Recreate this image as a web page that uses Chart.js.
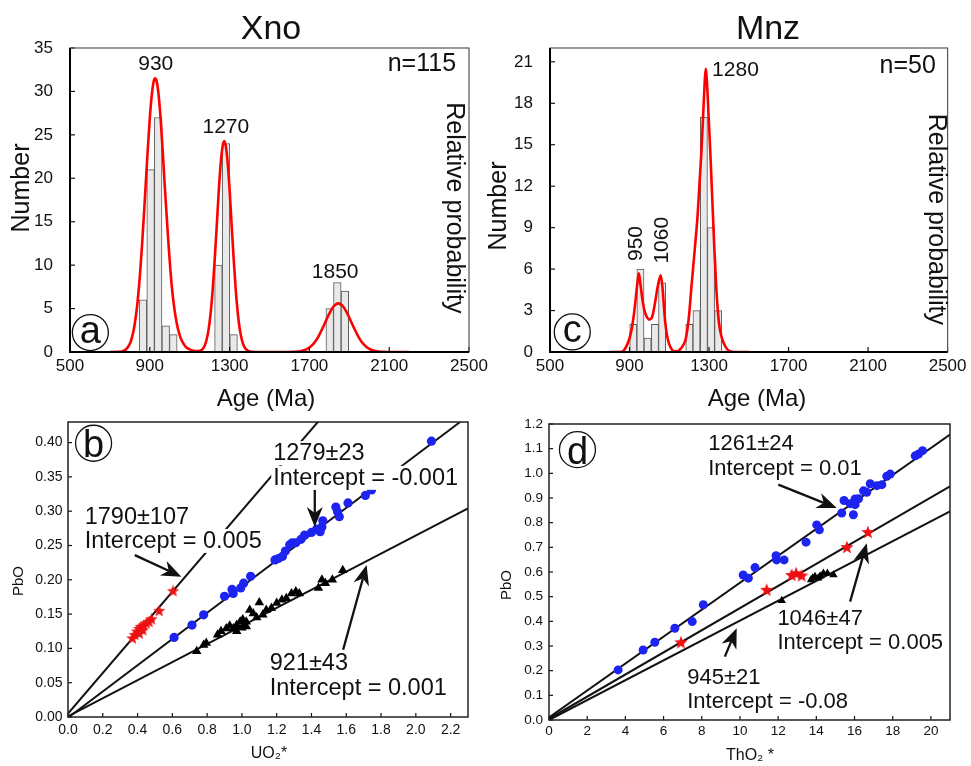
<!DOCTYPE html>
<html>
<head>
<meta charset="utf-8">
<title>Xno / Mnz ages and PbO plots</title>
<script src="https://cdn.jsdelivr.net/npm/chart.js@4.4.1/dist/chart.umd.min.js"></script>
<style>
  html, body { margin: 0; padding: 0; background: #fff; }
  #fig { position: relative; width: 971px; height: 766px; }
  #fig canvas { position: absolute; left: 0; top: 0; }
</style>
</head>
<body>
<div id="fig">
  <canvas id="panelA" width="971" height="766"></canvas>
  <canvas id="panelC" width="971" height="766"></canvas>
  <canvas id="panelB" width="971" height="766"></canvas>
  <canvas id="panelD" width="971" height="766"></canvas>
</div>
<script>
// ---- values ----

var ageTicks = [500, 900, 1300, 1700, 2100, 2500];

// (a) xenotime histogram (bin centres, ~38 Ma bins) + probability curve
var xnoBinAge = [866, 904, 942, 980, 1018, 1244, 1282, 1320, 1802, 1840, 1878];
var xnoBinCount = [6, 21, 27, 3, 2, 10, 24, 2, 5, 8, 7];
var xnoCountTicks = [0, 5, 10, 15, 20, 25, 30, 35];
var xnoCurveAge = [700, 740, 760, 780, 800, 810, 820, 830, 840, 850, 860, 870, 880, 890, 900, 910, 920, 927, 935, 945,
  955, 965, 975, 985, 995, 1005, 1015, 1025, 1035, 1045, 1055, 1065, 1080, 1100, 1120, 1140, 1160, 1175, 1185, 1195,
  1205, 1215, 1225, 1235, 1245, 1255, 1265, 1273, 1281, 1291, 1301, 1311, 1321, 1331, 1341, 1351, 1361, 1371, 1386, 1410,
  1450, 1500, 1580, 1620, 1660, 1690, 1720, 1745, 1770, 1795, 1820, 1845, 1870, 1895, 1920, 1945, 1970, 2000, 2030, 2070,
  2120, 2200];
var xnoCurveProb = [0, 0.02, 0.07, 0.29, 0.95, 1.62, 2.62, 4.09, 6.09, 8.7, 11.9, 15.6, 19.5, 23.4, 26.9, 29.6, 31.2, 31.5, 31.1, 29.4,
  26.6, 23.0, 19.1, 15.5, 12.0, 8.9, 6.5, 4.7, 3.3, 2.3, 1.6, 1.1, 0.6, 0.3, 0.15, 0.1, 0.23, 0.73, 1.44, 2.63,
  4.49, 7.11, 10.5, 14.3, 18.3, 21.6, 23.7, 24.3, 23.7, 21.6, 18.3, 14.3, 10.5, 7.11, 4.49, 2.63, 1.44, 0.73, 0.23, 0.03,
  0, 0, 0, 0.02, 0.11, 0.36, 0.93, 1.78, 2.94, 4.2, 5.21, 5.6, 5.21, 4.2, 2.94, 1.78, 0.93, 0.36, 0.11, 0.02,
  0, 0];

// (c) monazite histogram (~36 Ma bins) + probability curve
var mnzBinAge = [919, 955, 991, 1028, 1064, 1201, 1237, 1274, 1310, 1346];
var mnzBinCount = [2, 6, 1, 2, 5, 2, 3, 17, 9, 3];
var mnzCountTicks = [0, 3, 6, 9, 12, 15, 18, 21];
var mnzCurveAge = [800, 850, 866, 880, 897, 910, 920, 930, 938, 947, 955, 965, 975, 985, 1000, 1015, 1030, 1040, 1047, 1057,
  1065, 1072, 1080, 1090, 1100, 1112, 1125, 1140, 1155, 1170, 1182, 1197, 1212, 1228, 1242, 1252, 1262, 1270, 1277, 1283,
  1290, 1298, 1306, 1313, 1320, 1327, 1337, 1350, 1365, 1380, 1395, 1410, 1440, 1500];
var mnzCurveProb = [0, 0, 0.05, 0.3, 0.85, 1.6, 2.5, 3.7, 4.8, 5.7, 4.9, 3.8, 3.0, 2.6, 2.35, 2.6, 3.7, 4.6, 5.1, 5.55,
  4.8, 3.5, 2.1, 1.1, 0.55, 0.2, 0.05, 0.05, 0.2, 0.5, 0.9, 2.3, 4.8, 7.4, 9.8, 12.2, 14.6, 17.0, 19.2, 20.5,
  19.4, 17.0, 14.6, 12.2, 9.8, 7.4, 4.5, 2.1, 1.0, 0.45, 0.15, 0.04, 0, 0];

// (b) xenotime PbO vs UO2*
var uo2Ticks = [0, 0.2, 0.4, 0.6, 0.8, 1.0, 1.2, 1.4, 1.6, 1.8, 2.0, 2.2];
var pboTicksB = [0, 0.05, 0.10, 0.15, 0.20, 0.25, 0.30, 0.35, 0.40];
var bBlueU = [0.61, 0.713, 0.78, 0.90, 0.95, 0.943, 0.993, 1.01, 1.05, 1.19, 1.21, 1.233, 1.25, 1.275, 1.29,
  1.31, 1.34, 1.36, 1.40, 1.43, 1.45, 1.46, 1.465, 1.54, 1.55, 1.56, 1.61, 1.71, 1.745, 2.09];
var bBluePb = [0.116, 0.134, 0.149, 0.176, 0.18, 0.186, 0.188, 0.195, 0.205, 0.229, 0.231, 0.234, 0.242, 0.251, 0.254,
  0.254, 0.259, 0.265, 0.269, 0.274, 0.27, 0.277, 0.286, 0.306, 0.299, 0.292, 0.312, 0.323, 0.331, 0.402];
var bRedU = [0.37, 0.384, 0.397, 0.41, 0.42, 0.435, 0.45, 0.466, 0.48, 0.41, 0.43, 0.524, 0.604];
var bRedPb = [0.115, 0.12, 0.125, 0.129, 0.132, 0.134, 0.137, 0.139, 0.143, 0.122, 0.127, 0.155, 0.184];
var bBlackU = [0.74, 0.78, 0.795, 0.86, 0.88, 0.91, 0.93, 0.95, 0.97, 0.97, 0.99, 1.0, 1.005, 1.025, 1.025,
  1.045, 1.065, 1.085, 1.10, 1.12, 1.14, 1.17, 1.2, 1.23, 1.255, 1.285, 1.31, 1.33, 1.44, 1.46, 1.48, 1.52, 1.58];
var bBlackPb = [0.096, 0.105, 0.108, 0.12, 0.125, 0.129, 0.133, 0.129, 0.134, 0.125, 0.139, 0.13, 0.142, 0.139, 0.132,
  0.156, 0.151, 0.145, 0.167, 0.149, 0.156, 0.159, 0.166, 0.171, 0.173, 0.18, 0.183, 0.18, 0.188, 0.2, 0.195, 0.2, 0.214];
var bRedFitU = [0, 1.45], bRedFitPb = [0.005, 0.434];
var bBlueFitU = [0, 2.26], bBlueFitPb = [-0.001, 0.431];
var bBlackFitU = [0, 2.3], bBlackFitPb = [0.001, 0.304];

// (d) monazite PbO vs ThO2*
var tho2Ticks = [0, 2, 4, 6, 8, 10, 12, 14, 16, 18, 20];
var pboTicksD = [0, 0.1, 0.2, 0.3, 0.4, 0.5, 0.6, 0.7, 0.8, 0.9, 1.0, 1.1, 1.2];
var dBlueTh = [3.62, 4.93, 5.54, 6.59, 7.5, 8.08, 10.17, 10.44, 10.79, 11.89, 11.92, 12.31, 13.46, 14.02, 14.16, 15.33,
  15.45, 15.77, 15.94, 16.03, 16.03, 16.21, 16.47, 16.64, 16.82, 17.17, 17.43, 17.69, 17.87, 19.18, 19.35, 19.56];
var dBluePb = [0.203, 0.284, 0.315, 0.372, 0.399, 0.467, 0.588, 0.575, 0.618, 0.666, 0.649, 0.649, 0.721, 0.791, 0.771, 0.839,
  0.89, 0.877, 0.832, 0.873, 0.896, 0.897, 0.929, 0.923, 0.958, 0.95, 0.954, 0.988, 0.997, 1.071, 1.078, 1.092];
var dRedTh = [6.91, 11.4, 12.71, 12.94, 13.23, 15.6, 16.7];
var dRedPb = [0.315, 0.528, 0.588, 0.595, 0.586, 0.701, 0.762];
var dBlackTh = [12.19, 13.72, 13.81, 13.93, 14.1, 14.2, 14.37, 14.58, 14.9];
var dBlackPb = [0.484, 0.568, 0.575, 0.582, 0.575, 0.584, 0.595, 0.595, 0.588];
var dBlueFitTh = [0, 21], dBlueFitPb = [0.01, 1.157];
var dRedFitTh = [0, 21], dRedFitPb = [0.005, 0.947];
var dBlackFitTh = [0, 21], dBlackFitPb = [0, 0.846];

// ---- helpers ----
var FONT = 'Arial, "Liberation Sans", Helvetica, sans-serif';
var W = 971, H = 766;
var BLUE = '#1e24f0', RED = '#ee1111';
Chart.defaults.font.family = FONT;
Chart.defaults.color = '#111';

function pts(xs, ys) {
  return xs.map(function (x, i) { return { x: x, y: ys[i] }; });
}
function fixedTicks(values) {
  return function (scale) { scale.ticks = values.map(function (v) { return { value: v }; }); };
}
function forceWidth(w) { return function (s) { s.width = w; }; }
function forceHeight(h) { return function (s) { s.height = h; }; }
function layoutFor(area, yw, xh) {
  return { padding: { left: area.left - yw, top: area.top, right: W - area.right, bottom: H - area.bottom - xh } };
}

function starImage(size, color) {
  var c = document.createElement('canvas');
  c.width = size; c.height = size;
  var g = c.getContext('2d');
  var cx = size / 2, cy = size / 2 + 0.5, R = size / 2, r = R * 0.42;
  g.beginPath();
  for (var i = 0; i < 10; i++) {
    var ang = -Math.PI / 2 + i * Math.PI / 5;
    var rad = i % 2 ? r : R;
    g.lineTo(cx + rad * Math.cos(ang), cy + rad * Math.sin(ang));
  }
  g.closePath();
  g.fillStyle = color;
  g.fill();
  return c;
}

function drawLabel(ctx, t, x, y) {
  ctx.save();
  ctx.translate(x, y);
  if (t.rot) ctx.rotate(t.rot * Math.PI / 180);
  var size = t.size || 22;
  ctx.font = size + 'px ' + FONT;
  ctx.textAlign = t.align || 'center';
  ctx.textBaseline = t.base || 'alphabetic';
  if (t.bg) {
    var w = ctx.measureText(t.text).width;
    var x0 = t.align === 'left' ? 0 : (t.align === 'right' ? -w : -w / 2);
    ctx.fillStyle = '#fff';
    ctx.fillRect(x0 - 2, -size * 0.82, w + 4, size * 1.02);
  }
  ctx.fillStyle = '#111';
  ctx.fillText(t.text, 0, 0);
  ctx.restore();
}

function drawArrow(ctx, x0, y0, x1, y1) {
  var dx = x1 - x0, dy = y1 - y0, len = Math.sqrt(dx * dx + dy * dy);
  var ux = dx / len, uy = dy / len;
  var hl = 20, hw = 8, notch = 6;
  ctx.strokeStyle = '#111';
  ctx.lineWidth = 2.3;
  ctx.beginPath();
  ctx.moveTo(x0, y0);
  ctx.lineTo(x1 - ux * (hl - notch), y1 - uy * (hl - notch));
  ctx.stroke();
  ctx.fillStyle = '#111';
  ctx.beginPath();
  ctx.moveTo(x1, y1);
  ctx.lineTo(x1 - ux * hl - uy * hw, y1 - uy * hl + ux * hw);
  ctx.lineTo(x1 - ux * (hl - notch), y1 - uy * (hl - notch));
  ctx.lineTo(x1 - ux * hl + uy * hw, y1 - uy * hl - ux * hw);
  ctx.closePath();
  ctx.fill();
}

// frame, inward ticks, labels, arrows and the circled panel letter
var decoPlugin = {
  id: 'deco',
  afterDatasetsDraw: function (chart, args, o) {
    var ctx = chart.ctx, a = chart.chartArea, xs = chart.scales.x, ys = chart.scales.y;
    ctx.save();
    ctx.strokeStyle = '#111';
    ctx.lineWidth = 1.2;
    xs.ticks.forEach(function (t) {
      var p = xs.getPixelForValue(t.value);
      ctx.beginPath(); ctx.moveTo(p, a.bottom); ctx.lineTo(p, a.bottom - o.tick); ctx.stroke();
    });
    ys.ticks.forEach(function (t) {
      var p = ys.getPixelForValue(t.value);
      ctx.beginPath(); ctx.moveTo(a.left, p); ctx.lineTo(a.left + o.tick, p); ctx.stroke();
    });

    if (o.heavyAxes) {
      ctx.lineWidth = 1.2; ctx.strokeStyle = '#555';
      ctx.strokeRect(a.left, a.top, a.right - a.left, a.bottom - a.top);
      ctx.lineWidth = 2; ctx.strokeStyle = '#000';
      ctx.beginPath(); ctx.moveTo(a.left, a.top); ctx.lineTo(a.left, a.bottom); ctx.lineTo(a.right, a.bottom); ctx.stroke();
    } else {
      ctx.lineWidth = 1.5; ctx.strokeStyle = '#222';
      ctx.strokeRect(a.left, a.top, a.right - a.left, a.bottom - a.top);
    }

    (o.notes || []).forEach(function (t) {
      drawLabel(ctx, t, xs.getPixelForValue(t.x), ys.getPixelForValue(t.y));
    });
    (o.arrows || []).forEach(function (ar) {
      drawArrow(ctx, xs.getPixelForValue(ar.from[0]), ys.getPixelForValue(ar.from[1]),
        xs.getPixelForValue(ar.to[0]), ys.getPixelForValue(ar.to[1]));
    });

    if (o.badge) {
      var cx = xs.getPixelForValue(o.badge.x), cy = ys.getPixelForValue(o.badge.y);
      ctx.beginPath();
      ctx.arc(cx, cy, 18, 0, Math.PI * 2);
      ctx.lineWidth = 1.3; ctx.strokeStyle = '#111'; ctx.stroke();
      ctx.font = '38px ' + FONT;
      ctx.textAlign = 'center'; ctx.textBaseline = 'alphabetic'; ctx.fillStyle = '#111';
      var m = ctx.measureText(o.badge.letter);
      ctx.fillText(o.badge.letter, cx, cy + (m.actualBoundingBoxAscent - m.actualBoundingBoxDescent) / 2);
    }

    (o.titles || []).forEach(function (t) { drawLabel(ctx, t, t.px, t.py); });
    ctx.restore();
  }
};

function plainAxis(extra) {
  return Object.assign({
    type: 'linear', bounds: 'data', offset: false,
    grid: { display: false, drawTicks: false },
    border: { display: false }
  }, extra);
}

function histChart(id, spec) {
  return new Chart(document.getElementById(id), {
    type: 'bar',
    data: {
      datasets: [
        {
          type: 'line', data: pts(spec.curveAge, spec.curveProb),
          borderColor: '#ff0000', borderWidth: 2.6, pointRadius: 0,
          cubicInterpolationMode: 'monotone', fill: false, order: 1
        },
        {
          type: 'bar', data: pts(spec.binAge, spec.binCount),
          backgroundColor: '#e9e9e9', borderColor: '#5a5a5a', borderWidth: 1,
          categoryPercentage: 1, barPercentage: 1, grouped: false, order: 2
        }
      ]
    },
    options: {
      responsive: false, animation: false,
      layout: layoutFor(spec.area, 60, 40),
      plugins: { legend: { display: false }, tooltip: { enabled: false }, deco: spec.deco },
      scales: {
        x: plainAxis({
          min: 500, max: 2500, afterBuildTicks: fixedTicks(ageTicks), afterFit: forceHeight(40),
          ticks: { font: { size: 17 }, padding: 4.5, maxRotation: 0, autoSkip: false,
            callback: function (v) { return String(v); } }
        }),
        y: plainAxis({
          min: 0, max: spec.yMax, afterBuildTicks: fixedTicks(spec.yTicks), afterFit: forceWidth(60),
          ticks: { font: { size: 17 }, padding: 17, autoSkip: false, callback: function (v) { return String(v); } }
        })
      }
    },
    plugins: [decoPlugin]
  });
}

function fitLine(xs, ys) {
  return { data: pts(xs, ys), showLine: true, pointRadius: 0, borderColor: '#111', borderWidth: 2, order: 3 };
}

function pbChart(id, spec) {
  return new Chart(document.getElementById(id), {
    type: 'scatter',
    data: {
      datasets: [
        { data: spec.blue, pointStyle: 'circle', pointRadius: spec.dot, backgroundColor: BLUE, borderWidth: 0, order: 1 },
        { data: spec.red, pointStyle: starImage(spec.star, RED), pointRadius: 6, order: 1 },
        { data: spec.black, pointStyle: 'triangle', pointRadius: spec.tri, backgroundColor: '#000', borderWidth: 0, order: 1 }
      ].concat(spec.lines)
    },
    options: {
      responsive: false, animation: false,
      layout: layoutFor(spec.area, 50, 30),
      plugins: { legend: { display: false }, tooltip: { enabled: false }, deco: spec.deco },
      scales: {
        x: plainAxis({
          min: 0, max: spec.xMax, afterBuildTicks: fixedTicks(spec.xTicks), afterFit: forceHeight(30),
          ticks: { font: { size: spec.font }, padding: spec.xPad, maxRotation: 0, autoSkip: false, callback: spec.xFmt }
        }),
        y: plainAxis({
          min: 0, max: spec.yMax, afterBuildTicks: fixedTicks(spec.yTicks), afterFit: forceWidth(50),
          ticks: { font: { size: spec.font }, padding: spec.yPad, autoSkip: false, callback: spec.yFmt }
        })
      }
    },
    plugins: [decoPlugin]
  });
}

// ---- (a) Xno histogram ----
histChart('panelA', {
  area: { left: 70, top: 48, right: 469, bottom: 352 },
  binAge: xnoBinAge, binCount: xnoBinCount, curveAge: xnoCurveAge, curveProb: xnoCurveProb,
  yMax: 35, yTicks: xnoCountTicks,
  deco: {
    tick: 5, heavyAxes: true,
    notes: [
      { text: '930', x: 930, y: 32.5, size: 21 },
      { text: '1270', x: 1281, y: 25.2, size: 21 },
      { text: '1850', x: 1829, y: 8.55, size: 21 },
      { text: 'n=115', x: 2435, y: 32.3, size: 25, align: 'right' },
      { text: 'Relative probability', x: 2425, y: 16.6, size: 25, rot: 90, base: 'middle' }
    ],
    badge: { letter: 'a', x: 602, y: 2.24 },
    titles: [
      { text: 'Xno', px: 271, py: 39, size: 34 },
      { text: 'Number', px: 22, py: 188, size: 25, rot: -90, base: 'middle' },
      { text: 'Age (Ma)', px: 266, py: 406, size: 24 }
    ]
  }
});

// ---- (c) Mnz histogram ----
histChart('panelC', {
  area: { left: 550, top: 48, right: 950, bottom: 352 },
  binAge: mnzBinAge, binCount: mnzBinCount, curveAge: mnzCurveAge, curveProb: mnzCurveProb,
  yMax: 22, yTicks: mnzCountTicks,
  deco: {
    tick: 5, heavyAxes: true,
    notes: [
      { text: '1280', x: 1433, y: 20.0, size: 21 },
      { text: '950', x: 933, y: 7.85, size: 21, rot: -90, base: 'middle' },
      { text: '1060', x: 1062, y: 8.09, size: 21, rot: -90, base: 'middle' },
      { text: 'n=50', x: 2441, y: 20.2, size: 25, align: 'right' },
      { text: 'Relative probability', x: 2440, y: 9.6, size: 25, rot: 90, base: 'middle' }
    ],
    badge: { letter: 'c', x: 612, y: 1.45 },
    titles: [
      { text: 'Mnz', px: 768, py: 39, size: 34 },
      { text: 'Number', px: 499, py: 206, size: 25, rot: -90, base: 'middle' },
      { text: 'Age (Ma)', px: 757, py: 406, size: 24 }
    ]
  }
});

// ---- (b) PbO vs UO2* ----
pbChart('panelB', {
  area: { left: 68, top: 422, right: 468, bottom: 717 },
  xMax: 2.3, yMax: 0.43, xTicks: uo2Ticks, yTicks: pboTicksB,
  font: 14, xPad: 4.5, yPad: 5.5, dot: 4.6, tri: 5.5, star: 13,
  xFmt: function (v) { return v.toFixed(1); },
  yFmt: function (v) { return v.toFixed(2); },
  blue: pts(bBlueU, bBluePb), red: pts(bRedU, bRedPb), black: pts(bBlackU, bBlackPb),
  lines: [fitLine(bRedFitU, bRedFitPb), fitLine(bBlueFitU, bBlueFitPb), fitLine(bBlackFitU, bBlackFitPb)],
  deco: {
    tick: 4,
    notes: [
      { text: '1279±23', x: 1.18, y: 0.374, size: 23.5, align: 'left', bg: true },
      { text: 'Intercept = -0.001', x: 1.18, y: 0.338, size: 23.5, align: 'left', bg: true },
      { text: '1790±107', x: 0.096, y: 0.282, size: 23.5, align: 'left', bg: true },
      { text: 'Intercept = 0.005', x: 0.096, y: 0.246, size: 23.5, align: 'left', bg: true },
      { text: '921±43', x: 1.16, y: 0.069, size: 23.5, align: 'left', bg: true },
      { text: 'Intercept = 0.001', x: 1.16, y: 0.032, size: 23.5, align: 'left', bg: true }
    ],
    arrows: [
      { from: [0.384, 0.236], to: [0.652, 0.2045] },
      { from: [1.419, 0.331], to: [1.419, 0.277] },
      { from: [1.582, 0.098], to: [1.717, 0.2215] }
    ],
    badge: { letter: 'b', x: 0.147, y: 0.399 },
    titles: [
      { text: 'PbO', px: 19, py: 581, size: 15, rot: -90, base: 'middle' },
      { text: 'UO₂*', px: 269, py: 758, size: 16 }
    ]
  }
});

// ---- (d) PbO vs ThO2* ----
pbChart('panelD', {
  area: { left: 549, top: 424, right: 950, bottom: 720 },
  xMax: 21, yMax: 1.2, xTicks: tho2Ticks, yTicks: pboTicksD,
  font: 13.5, xPad: 3.6, yPad: 6, dot: 4.5, tri: 4.8, star: 14,
  xFmt: function (v) { return String(v); },
  yFmt: function (v) { return v.toFixed(1); },
  blue: pts(dBlueTh, dBluePb), red: pts(dRedTh, dRedPb), black: pts(dBlackTh, dBlackPb),
  lines: [fitLine(dBlueFitTh, dBlueFitPb), fitLine(dRedFitTh, dRedFitPb), fitLine(dBlackFitTh, dBlackFitPb)],
  deco: {
    tick: 4,
    notes: [
      { text: '1261±24', x: 8.34, y: 1.096, size: 22, align: 'left' },
      { text: 'Intercept = 0.01', x: 8.34, y: 0.994, size: 22, align: 'left' },
      { text: '1046±47', x: 11.96, y: 0.386, size: 22, align: 'left' },
      { text: 'Intercept = 0.005', x: 11.96, y: 0.287, size: 22, align: 'left' },
      { text: '945±21', x: 7.24, y: 0.146, size: 22, align: 'left' },
      { text: 'Intercept = -0.08', x: 7.24, y: 0.047, size: 22, align: 'left' }
    ],
    arrows: [
      { from: [12.01, 0.954], to: [15.07, 0.859] },
      { from: [15.77, 0.48], to: [16.64, 0.717] },
      { from: [9.21, 0.257], to: [9.83, 0.372] }
    ],
    badge: { letter: 'd', x: 1.49, y: 1.096 },
    titles: [
      { text: 'PbO', px: 507, py: 585, size: 15, rot: -90, base: 'middle' },
      { text: 'ThO₂ *', px: 750, py: 760, size: 16 }
    ]
  }
});
</script>
</body>
</html>
